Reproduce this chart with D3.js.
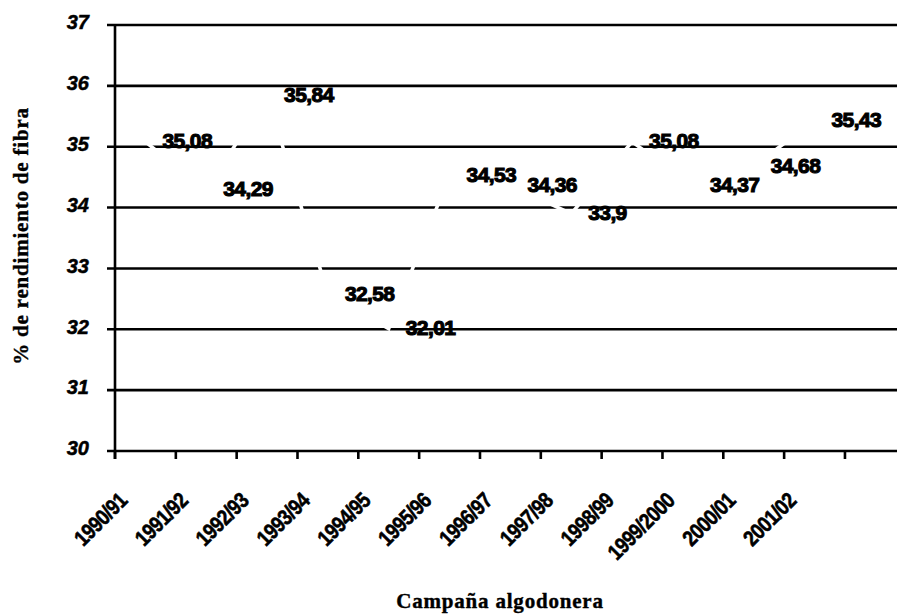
<!DOCTYPE html>
<html>
<head>
<meta charset="utf-8">
<script src="https://cdn.jsdelivr.net/npm/d3@7"></script>
<style>
  html, body { margin: 0; padding: 0; background: #fff; }
  svg { display: block; }
</style>
</head>
<body>
<svg id="chart" width="897" height="614"></svg>
<script>
const categories = ["1990/91","1991/92","1992/93","1993/94","1994/95","1995/96","1996/97","1997/98","1998/99","1999/2000","2000/01","2001/02",""];
const values = [35.08, 34.29, 35.84, 32.58, 32.01, 34.53, 34.36, 33.9, 35.08, 34.37, 34.68, 35.43];
const valueLabels = ["35,08","34,29","35,84","32,58","32,01","34,53","34,36","33,9","35,08","34,37","34,68","35,43"];
const yTicks = [30, 31, 32, 33, 34, 35, 36, 37];

const svg = d3.select("#chart");
const plotLeft = 115, plotTop = 25, plotBottom = 451, step = 60.83;

const x = d3.scaleBand().domain(categories).range([plotLeft, plotLeft + step * categories.length]).paddingInner(0).paddingOuter(0);
const y = d3.scaleLinear().domain([30, 37]).range([plotBottom, plotTop]);

// gridlines
svg.append("g").selectAll("line").data(yTicks).join("line")
  .attr("x1", plotLeft - 8).attr("x2", 910)
  .attr("y1", d => y(d)).attr("y2", d => y(d))
  .attr("stroke", "#000").attr("stroke-width", 2.6);

// y axis line
svg.append("line").attr("x1", plotLeft).attr("x2", plotLeft)
  .attr("y1", y(37) - 1).attr("y2", plotBottom + 8)
  .attr("stroke", "#000").attr("stroke-width", 2.6);

// x ticks (between categories)
const tickXs = categories.map(c => x(c));
svg.append("g").selectAll("line").data(tickXs).join("line")
  .attr("x1", d => d).attr("x2", d => d)
  .attr("y1", plotBottom).attr("y2", plotBottom + 8)
  .attr("stroke", "#000").attr("stroke-width", 2.6);

// y tick labels
svg.append("g").selectAll("text").data(yTicks).join("text")
  .attr("x", 89).attr("y", d => y(d) - 1)
  .attr("text-anchor", "end").attr("dominant-baseline", "middle")
  .attr("font-family", "Liberation Sans, Arial, sans-serif")
  .attr("font-weight", "bold").attr("font-style", "italic")
  .attr("font-size", 20)
  .attr("stroke", "#000").attr("stroke-width", 0.5)
  .text(d => d);

// x category labels
svg.append("g").selectAll("text").data(categories.filter(c => c !== "")).join("text")
  .attr("transform", d => `translate(${x(d) + x.bandwidth() / 2 - 17},502) rotate(-45) scale(0.85,1)`)
  .attr("text-anchor", "end")
  .attr("font-family", "Liberation Sans, Arial, sans-serif")
  .attr("font-weight", "bold").attr("font-size", 22)
  .attr("letter-spacing", -0.6)
  .attr("stroke", "#000").attr("stroke-width", 0.6)
  .text(d => d);

// data line (white)
const line = d3.line()
  .x((d, i) => x(categories[i]) + x.bandwidth() / 2)
  .y(d => y(d));
svg.append("path").datum(values)
  .attr("d", line).attr("fill", "none")
  .attr("stroke", "#fff").attr("stroke-width", 3.5);

// data labels
svg.append("g").selectAll("text").data(values).join("text")
  .attr("x", (d, i) => x(categories[i]) + x.bandwidth() / 2 + 17)
  .attr("y", d => y(d) + 1)
  .attr("dominant-baseline", "middle")
  .attr("font-family", "Liberation Sans, Arial, sans-serif")
  .attr("font-weight", "bold").attr("font-size", 21)
  .attr("letter-spacing", -0.6)
  .attr("stroke", "#000").attr("stroke-width", 1.1)
  .text((d, i) => valueLabels[i]);

// axis titles
svg.append("text")
  .attr("transform", "translate(28,236) rotate(-90)")
  .attr("text-anchor", "middle")
  .attr("font-family", "Liberation Serif, Times New Roman, serif")
  .attr("font-weight", "bold").attr("font-size", 21)
  .attr("letter-spacing", 0.8)
  .attr("stroke", "#000").attr("stroke-width", 0.4)
  .text("% de rendimiento de fibra");

svg.append("text")
  .attr("x", 500).attr("y", 608)
  .attr("text-anchor", "middle")
  .attr("font-family", "Liberation Serif, Times New Roman, serif")
  .attr("font-weight", "bold").attr("font-size", 21)
  .attr("letter-spacing", 0.8)
  .attr("stroke", "#000").attr("stroke-width", 0.4)
  .text("Campaña algodonera");
</script>
</body>
</html>
